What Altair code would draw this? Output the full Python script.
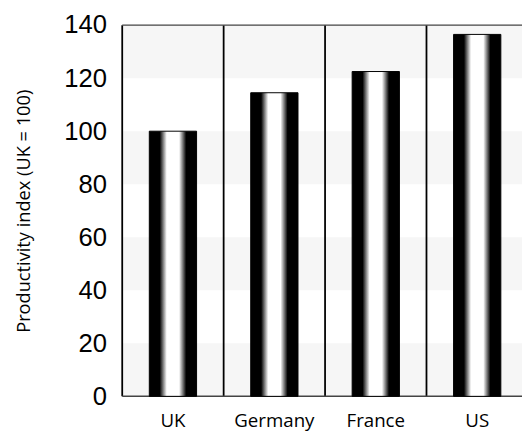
import altair as alt
import pandas as pd

countries = ["UK", "Germany", "France", "US"]
values = [100, 114.5, 122.5, 136.5]
band_lo = [0, 40, 80, 120]
band_hi = [20, 60, 100, 140]
y_ticks = [0, 20, 40, 60, 80, 100, 120, 140]
frame_values = [0, 140]

bars_df = pd.DataFrame({"country": countries, "value": values})
bands_df = pd.DataFrame({"lo": band_lo, "hi": band_hi})
frame_df = pd.DataFrame({"v": frame_values})

W, H = 406, 377

x_scale = alt.Scale(domain=countries, range=[0, 412], paddingInner=0, paddingOuter=0)
y_scale = alt.Scale(domain=[0, 140], nice=False, zero=True)

x_axis = alt.Axis(
    title=None, ticks=False, tickSize=0, domain=False, grid=False,
    labelFont="Open Sans", labelFontSize=19, labelColor="black",
    labelPadding=16, labelAngle=0,
)
y_axis = alt.Axis(
    title="Productivity index (UK = 100)", values=y_ticks,
    ticks=False, tickSize=0, domain=False, grid=False,
    labelFont="Liberation Sans", labelFontSize=26, labelColor="black",
    labelPadding=16,
    titleFont="Open Sans", titleFontSize=18.5, titleFontWeight="normal",
    titleColor="black", titleAngle=-90, titleBaseline="alphabetic",
    titleAlign="center", titleX=-94, titleY=H / 2,
)

bands = alt.Chart(bands_df).mark_rect(color="#f6f6f6").encode(
    x=alt.value(0), x2=alt.value(W),
    y=alt.Y("lo:Q", scale=y_scale, axis=y_axis),
    y2="hi:Q",
)

seps = alt.Chart(bars_df).mark_rule(color="black", strokeWidth=1.8).encode(
    x=alt.X("country:N", bandPosition=0, scale=x_scale, sort=countries, axis=x_axis),
)

frame = alt.Chart(frame_df).mark_rule(color="#444444", strokeWidth=1.5).encode(
    y=alt.Y("v:Q", scale=y_scale, axis=y_axis),
)

grad = alt.LinearGradient(
    gradient="linear", x1=0, x2=1, y1=0, y2=0,
    stops=[
        alt.GradientStop(offset=0, color="#000000"),
        alt.GradientStop(offset=0.22, color="#000000"),
        alt.GradientStop(offset=0.30, color="#888888"),
        alt.GradientStop(offset=0.37, color="#ffffff"),
        alt.GradientStop(offset=0.63, color="#ffffff"),
        alt.GradientStop(offset=0.70, color="#888888"),
        alt.GradientStop(offset=0.78, color="#000000"),
        alt.GradientStop(offset=1, color="#000000"),
    ],
)

bars = alt.Chart(bars_df).mark_bar(
    color=grad, stroke="black", strokeWidth=1, width=alt.RelativeBandSize(0.466)
).encode(
    x=alt.X("country:N", scale=x_scale, sort=countries, axis=x_axis),
    y=alt.Y("value:Q", scale=y_scale, axis=y_axis),
)

chart = alt.layer(bands, seps, frame, bars).properties(
    width=W, height=H,
    autosize=alt.AutoSizeParams(type="none"),
    padding={"left": 116, "top": 14, "right": 0, "bottom": 45},
    background="white",
).configure_view(strokeWidth=0)

chart.save("out.html", embed_options={"renderer": "svg", "actions": False})
